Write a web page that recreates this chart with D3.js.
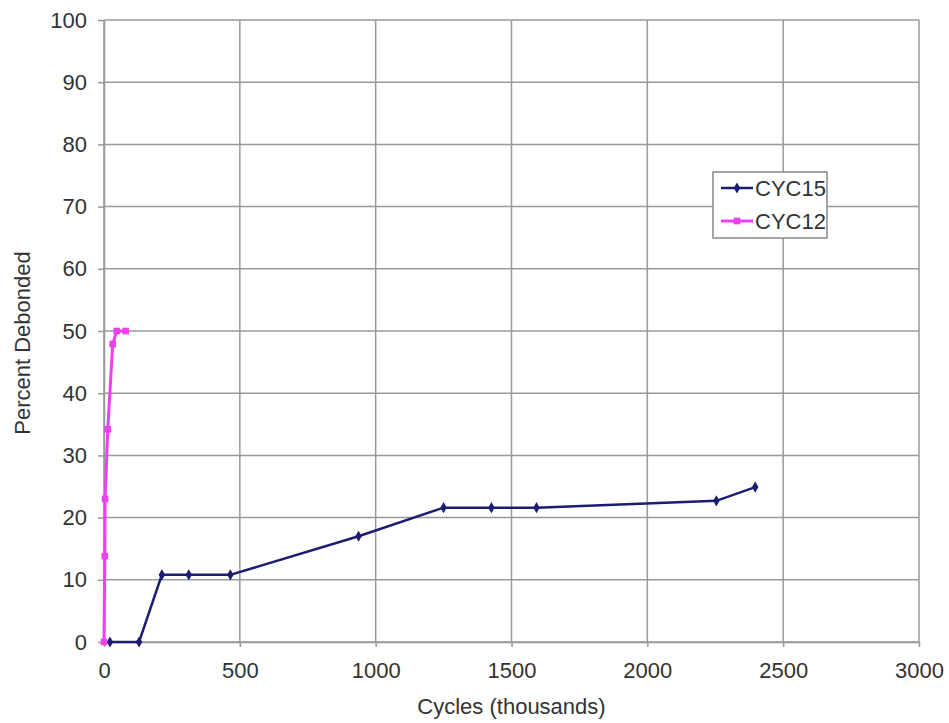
<!DOCTYPE html>
<html>
<head>
<meta charset="utf-8">
<script src="https://cdn.jsdelivr.net/npm/d3@7"></script>
<style>
  html, body { margin: 0; padding: 0; background: #fff; overflow: hidden; }
  svg { display: block; font-family: "Liberation Sans", Arial, sans-serif; }
</style>
</head>
<body>
<svg id="chart"></svg>
<script>
// values (cycles in thousands, percent debonded)
const cyc15Cycles = [22, 129, 213, 312, 465, 937, 1250, 1426, 1592, 2254, 2397];
const cyc15Percent = [0, 0, 10.8, 10.8, 10.8, 17.0, 21.6, 21.6, 21.6, 22.7, 24.9];

const cyc12Cycles = [0, 3, 4, 14, 32, 47, 80];
const cyc12Percent = [0, 13.8, 23.0, 34.2, 47.9, 50, 50];

const xTicks = [0, 500, 1000, 1500, 2000, 2500, 3000];
const yTicks = [0, 10, 20, 30, 40, 50, 60, 70, 80, 90, 100];

const seriesNames = ["CYC15", "CYC12"];

const width = 949;
const height = 723;
const margin = { top: 20, right: 30, bottom: 81, left: 104 };
const innerWidth = width - margin.left - margin.right;
const innerHeight = height - margin.top - margin.bottom;

const svg = d3.select("#chart")
    .attr("width", width)
    .attr("height", height)
;

const xScale = d3.scaleLinear()
    .domain([0, 3000])
    .range([0, innerWidth])
;

const yScale = d3.scaleLinear()
    .domain([0, 100])
    .range([innerHeight, 0])
;

const g = svg.append('g')
    .attr('transform', `translate(${margin.left},${margin.top})`)
;

// grid
g.append('g').selectAll('line')
    .data(yTicks)
    .enter().append('line')
    .attr('x1', 0).attr('x2', innerWidth)
    .attr('y1', d => yScale(d)).attr('y2', d => yScale(d))
    .attr('stroke', '#999').attr('stroke-width', 1.5)
;
g.append('g').selectAll('line')
    .data(xTicks)
    .enter().append('line')
    .attr('x1', d => xScale(d)).attr('x2', d => xScale(d))
    .attr('y1', 0).attr('y2', innerHeight)
    .attr('stroke', '#999').attr('stroke-width', 1.5)
;

// axes
const yAxis = g.append('g')
    .call(d3.axisLeft(yScale).tickValues(yTicks).tickSize(6).tickSizeOuter(0).tickPadding(11));
const xAxis = g.append('g')
    .attr('transform', `translate(0,${innerHeight})`)
    .call(d3.axisBottom(xScale).tickValues(xTicks).tickFormat(d3.format('d')).tickSize(5).tickSizeOuter(0).tickPadding(15));

[xAxis, yAxis].forEach(a => {
    a.select('.domain').attr('stroke', '#999').attr('stroke-width', 1.5);
    a.selectAll('.tick line').attr('stroke', '#999').attr('stroke-width', 1.5);
    a.selectAll('.tick text')
        .attr('fill', '#333')
        .style('font-size', '22px')
        .style('font-family', '"Liberation Sans", Arial, sans-serif');
});

// axis titles
svg.append('text')
    .attr('x', margin.left + innerWidth / 2)
    .attr('y', 714)
    .attr('text-anchor', 'middle')
    .attr('fill', '#333')
    .style('font-size', '22px')
    .text('Cycles (thousands)');

svg.append('text')
    .attr('transform', 'translate(30,343) rotate(-90)')
    .attr('text-anchor', 'middle')
    .attr('fill', '#333')
    .style('font-size', '22px')
    .text('Percent Debonded');

// series
const cyc15 = cyc15Cycles.map((c, i) => [c, cyc15Percent[i]]);
const cyc12 = cyc12Cycles.map((c, i) => [c, cyc12Percent[i]]);

const line = d3.line()
    .x(d => xScale(d[0]))
    .y(d => yScale(d[1]));

const navy = '#1c1c72';
const pink = '#ee40ee';

g.append('path')
    .datum(cyc15)
    .attr('d', line)
    .attr('fill', 'none')
    .attr('stroke', navy)
    .attr('stroke-width', 2.5);
g.selectAll('path.m15')
    .data(cyc15)
    .enter().append('path')
    .attr('class', 'm15')
    .attr('transform', d => `translate(${xScale(d[0])},${yScale(d[1])})`)
    .attr('d', d3.symbol().type(d3.symbolDiamond).size(36))
    .attr('fill', navy);

g.append('path')
    .datum(cyc12)
    .attr('d', line)
    .attr('fill', 'none')
    .attr('stroke', pink)
    .attr('stroke-width', 3);
g.selectAll('path.m12')
    .data(cyc12)
    .enter().append('path')
    .attr('class', 'm12')
    .attr('transform', d => `translate(${xScale(d[0])},${yScale(d[1])})`)
    .attr('d', d3.symbol().type(d3.symbolSquare).size(44))
    .attr('fill', pink);

// legend
const legend = svg.append('g').attr('transform', 'translate(713,172)');
legend.append('rect')
    .attr('width', 114).attr('height', 66)
    .attr('fill', '#fff').attr('stroke', '#888').attr('stroke-width', 1.5);

const colors = [navy, pink];
const symbols = [d3.symbolDiamond, d3.symbolSquare];
seriesNames.forEach((name, i) => {
    const y = 16 + i * 33;
    legend.append('line')
        .attr('x1', 8).attr('x2', 40).attr('y1', y).attr('y2', y)
        .attr('stroke', colors[i]).attr('stroke-width', i ? 3 : 2.5);
    legend.append('path')
        .attr('transform', `translate(24,${y})`)
        .attr('d', d3.symbol().type(symbols[i]).size(i ? 44 : 36))
        .attr('fill', colors[i]);
    legend.append('text')
        .attr('x', 42).attr('y', y)
        .attr('dy', '0.36em')
        .attr('fill', '#333')
        .style('font-size', '22px')
        .text(name);
});
</script>
</body>
</html>
